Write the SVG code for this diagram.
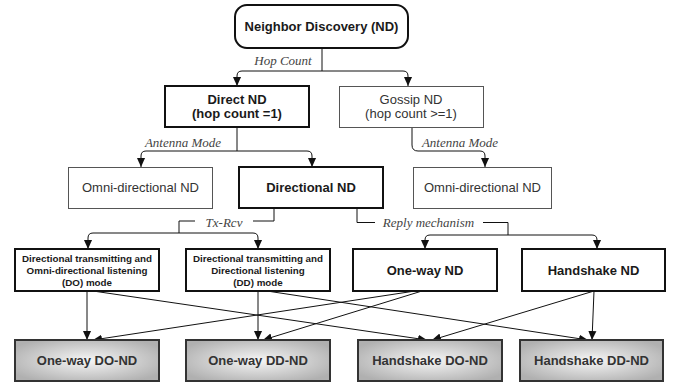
<svg xmlns="http://www.w3.org/2000/svg" width="675" height="388" viewBox="0 0 675 388">
<defs>
<marker id="arr" markerUnits="userSpaceOnUse" markerWidth="9" markerHeight="9" viewBox="0 0 10 10" refX="10" refY="5" orient="auto">
<path d="M0,0.5 L10,5 L0,9.5 z" fill="#111"/>
</marker>
<radialGradient id="grad" cx="50%" cy="50%" r="60%">
<stop offset="0%" stop-color="#f6f6f6"/>
<stop offset="100%" stop-color="#b0b0b0"/>
</radialGradient>
<style>
.thick{fill:#fff;stroke:#111;stroke-width:2}
.thin{fill:#fff;stroke:#555;stroke-width:1}
.leaf{fill:url(#grad);stroke:#333;stroke-width:2}
.b{font-family:"Liberation Sans",Arial,sans-serif;font-weight:bold;font-size:13px;fill:#1a1a1a;text-anchor:middle}
.lt{font-family:"Liberation Sans",Arial,sans-serif;font-weight:bold;font-size:13px;fill:#333;text-anchor:middle}
.r{font-family:"Liberation Sans",Arial,sans-serif;font-size:13px;fill:#333;text-anchor:middle}
.s{font-family:"Liberation Sans",Arial,sans-serif;font-weight:bold;font-size:9.8px;fill:#1a1a1a;text-anchor:middle}
.lb{font-family:"Liberation Serif","Times New Roman",serif;font-style:italic;font-size:13px;fill:#444;text-anchor:middle}
.c{fill:none;stroke:#111;stroke-width:1}
.ca{fill:none;stroke:#111;stroke-width:1;marker-end:url(#arr)}
</style>
</defs>

<g id="connectors">
<path class="c" d="M322,48 V71"/>
<path class="ca" d="M322,71 H242 Q237,71 237,76 V86"/>
<path class="ca" d="M322,71 H403 Q408,71 408,76 V86"/>
<path class="c" d="M237,127 V151"/>
<path class="ca" d="M237,151 H146 Q141,151 141,156 V167"/>
<path class="ca" d="M237,151 H307 Q312,151 312,156 V167"/>
<path class="ca" d="M412,127 V145 Q412,151 418,151 H480 Q485,151 485,156 V167"/>
<path class="c" d="M274,208 V221 H253"/>
<path class="c" d="M195,221 H179 V233"/>
<path class="ca" d="M179,233 H93 Q88,233 88,238 V249"/>
<path class="ca" d="M179,233 H253 Q258,233 258,238 V249"/>
<path class="c" d="M357,208 V222.5 H375"/>
<path class="c" d="M483,222.5 H508 V235"/>
<path class="ca" d="M508,235 H430 Q425,235 425,240 V249"/>
<path class="ca" d="M508,235 H592 Q597,235 597,240 V249"/>
<path class="ca" d="M87,291 V340"/>
<path class="ca" d="M93,291 L427,340"/>
<path class="ca" d="M258,291 V340"/>
<path class="ca" d="M267,291 L588,340"/>
<path class="ca" d="M415,291 L93,340"/>
<path class="ca" d="M422,291 L263,340"/>
<path class="ca" d="M594,291 L432,340"/>
<path class="ca" d="M594,291 L592,340"/>
<text class="lb" x="283" y="65">Hop Count</text>
<text class="lb" x="183" y="147">Antenna Mode</text>
<text class="lb" x="460" y="147">Antenna Mode</text>
<text class="lb" x="224" y="227">Tx-Rcv</text>
<text class="lb" x="428.5" y="227">Reply mechanism</text>
</g>

<g id="nd">
<rect class="thick" x="235" y="5" width="173" height="43" rx="12"/>
<text class="b" x="321.5" y="31">Neighbor Discovery (ND)</text>
</g>
<g id="direct">
<rect class="thick" x="165" y="86" width="144" height="41"/>
<text class="b" x="237" y="103.5">Direct ND</text>
<text class="b" x="237" y="117.5">(hop count =1)</text>
</g>
<g id="gossip">
<rect class="thin" x="339.5" y="86.5" width="144" height="41"/>
<text class="r" x="411" y="103.5">Gossip ND</text>
<text class="r" x="411" y="117.5">(hop count &gt;=1)</text>
</g>
<g id="omni-left">
<rect class="thin" x="68.5" y="167.5" width="144" height="41"/>
<text class="r" x="140.5" y="192">Omni-directional ND</text>
</g>
<g id="directional">
<rect class="thick" x="239" y="167" width="144" height="41"/>
<text class="b" x="311" y="192">Directional ND</text>
</g>
<g id="omni-right">
<rect class="thin" x="413.5" y="167.5" width="138" height="41"/>
<text class="r" x="482.5" y="192">Omni-directional ND</text>
</g>
<g id="do-mode">
<rect class="thick" x="15" y="249" width="144" height="42"/>
<text class="s" x="87" y="261.5">Directional transmitting and</text>
<text class="s" x="87" y="273.5">Omni-directional listening</text>
<text class="s" x="87" y="285.5">(DO) mode</text>
</g>
<g id="dd-mode">
<rect class="thick" x="186" y="249" width="144" height="42"/>
<text class="s" x="258" y="261.5">Directional transmitting and</text>
<text class="s" x="258" y="273.5">Directional listening</text>
<text class="s" x="258" y="285.5">(DD) mode</text>
</g>
<g id="oneway">
<rect class="thick" x="353" y="249" width="144" height="42"/>
<text class="b" x="425" y="274.5">One-way ND</text>
</g>
<g id="handshake">
<rect class="thick" x="522" y="249" width="143" height="42"/>
<text class="b" x="593.5" y="274.5">Handshake ND</text>
</g>
<g id="oneway-do">
<rect class="leaf" x="15" y="340" width="144" height="41"/>
<text class="lt" x="87" y="365">One-way DO-ND</text>
</g>
<g id="oneway-dd">
<rect class="leaf" x="186" y="340" width="144" height="41"/>
<text class="lt" x="258" y="365">One-way DD-ND</text>
</g>
<g id="handshake-do">
<rect class="leaf" x="358" y="340" width="144" height="41"/>
<text class="lt" x="430" y="365">Handshake DO-ND</text>
</g>
<g id="handshake-dd">
<rect class="leaf" x="520" y="340" width="143" height="41"/>
<text class="lt" x="591.5" y="365">Handshake DD-ND</text>
</g>
</svg>
